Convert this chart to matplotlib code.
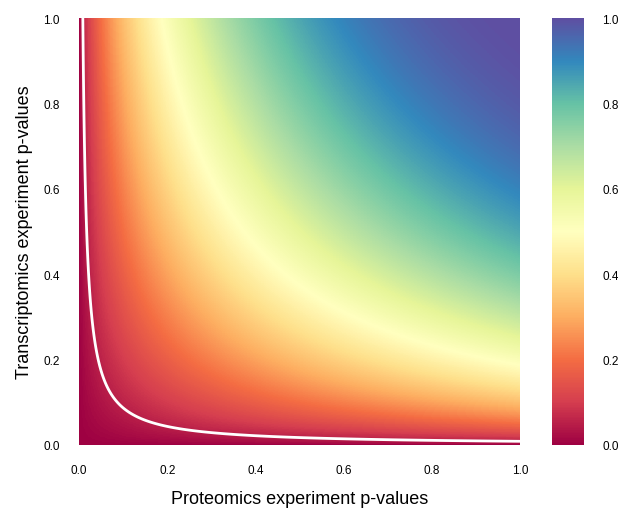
import numpy as np
import matplotlib.pyplot as plt

# p-value grids for the two experiments
prot_p = np.linspace(0.0005, 1.0, 600)
trans_p = np.linspace(0.0005, 1.0, 600)
ticks = [0.0, 0.2, 0.4, 0.6, 0.8, 1.0]
tick_labels = ["0.0", "0.2", "0.4", "0.6", "0.8", "1.0"]
alpha_level = [0.05]

# Fisher's combined p-value for two tests (chi2, 4 dof)
P, T = np.meshgrid(prot_p, trans_p)
q = P * T
combined = q * (1 - np.log(q))

plt.rcParams['font.family'] = ['Liberation Sans', 'DejaVu Sans']

fig = plt.figure(figsize=(6.18, 5.10), dpi=100)
ax = fig.add_axes([79 / 618, 64 / 510, 441 / 618, 427 / 510])
cax = fig.add_axes([552 / 618, 64 / 510, 32 / 618, 427 / 510])

im = ax.pcolormesh(prot_p, trans_p, combined, cmap='Spectral',
                   vmin=0, vmax=1, shading='auto', rasterized=True)
ax.contour(prot_p, trans_p, combined, levels=alpha_level,
           colors='white', linewidths=2)

ax.set_xlim(0, 1)
ax.set_ylim(0, 1)
ax.set_xticks(ticks)
ax.set_xticklabels(tick_labels)
ax.set_yticks(ticks)
ax.set_yticklabels(tick_labels)
ax.tick_params(length=0, labelsize=8.5, pad=14)
for s in ax.spines.values():
    s.set_visible(False)
ax.set_xlabel('Proteomics experiment p-values', fontsize=13, labelpad=10)
ax.set_ylabel('Transcriptomics experiment p-values', fontsize=13, labelpad=7)

cb = fig.colorbar(im, cax=cax, ticks=ticks)
cb.ax.set_yticklabels(tick_labels)
cb.outline.set_visible(False)
cb.ax.tick_params(length=0, labelsize=8.5, pad=13)

fig.savefig('out.png', dpi=100)
